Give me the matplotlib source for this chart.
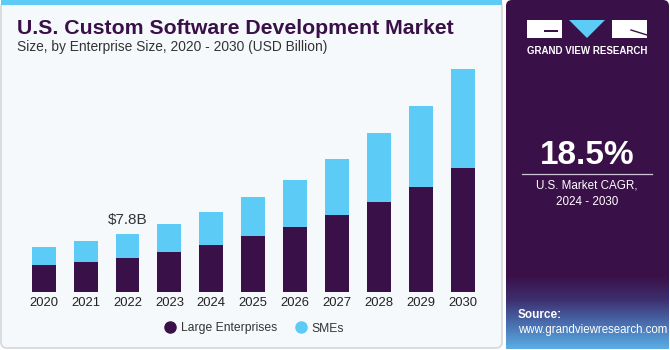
import numpy as np
import matplotlib.pyplot as plt
from matplotlib.patches import FancyBboxPatch, Rectangle, Polygon
from matplotlib.lines import Line2D
from matplotlib.colors import LinearSegmentedColormap

plt.rcParams["font.family"] = ["Liberation Sans", "DejaVu Sans"]

# Data (USD Billion)
years = ["2020", "2021", "2022", "2023", "2024", "2025", "2026", "2027", "2028", "2029", "2030"]
large = [3.67, 4.03, 4.61, 5.38, 6.36, 7.53, 8.78, 10.40, 12.14, 14.16, 16.72]
smes = [2.34, 2.79, 3.19, 3.72, 4.36, 5.21, 6.32, 7.49, 9.20, 10.86, 13.23]
label_year = "2022"
label_text = "$7.8B"
cagr = "18.5%"

dark = "#3a1048"
cyan = "#5ccbf5"
bg = "#f5f9fc"

W, H = 670, 350
fig = plt.figure(figsize=(6.7, 3.5), dpi=100)
fig.patch.set_facecolor("white")

# overlay axes in pixel coordinates for panels and decoration
deco = fig.add_axes([0, 0, 1, 1])
deco.axis("off")

deco.add_patch(FancyBboxPatch((1, 1), 501, 347, boxstyle="round,pad=0,rounding_size=6",
                              facecolor=bg, edgecolor="#d4d8dc", linewidth=1.2))
deco.add_patch(Rectangle((1, 0), 501, 5, facecolor=cyan, edgecolor="none"))

# right panel
deco.add_patch(FancyBboxPatch((506, 0), 163, 349, boxstyle="round,pad=0,rounding_size=6",
                              facecolor=dark, edgecolor="none"))
grad = np.linspace(0, 1, 100).reshape(-1, 1)
cmap = LinearSegmentedColormap.from_list("g", [dark, "#3d2f6e", "#4a6fb0", "#5aaee6"])
deco.imshow(grad, extent=(506, 669, 349, 275), cmap=cmap, aspect="auto", origin="upper", zorder=1)
deco.set_xlim(0, W)
deco.set_ylim(H, 0)

# logo
deco.add_patch(Rectangle((527, 20), 35, 18, facecolor="white", edgecolor="none", zorder=3))
deco.add_patch(Rectangle((544, 30), 14, 2, facecolor=dark, edgecolor="none", zorder=4))
deco.add_patch(Polygon([[569, 20], [605, 20], [587, 38]], facecolor=cyan, edgecolor="none", zorder=3))
deco.add_patch(Rectangle((612, 20), 35, 18, facecolor="white", edgecolor="none", zorder=3))
deco.plot([631, 647], [30, 35], color=dark, lw=1, zorder=4)
deco.text(587, 51, "GRAND VIEW RESEARCH", color="white", fontsize=7, fontweight="bold",
          ha="center", va="center", zorder=3)

deco.text(587, 156, cagr, color="white", fontsize=24, fontweight="bold", ha="center", va="center")
deco.plot([522, 652], [173.5, 173.5], color="#cfc4d6", lw=0.9)
deco.text(587, 186, "U.S. Market CAGR,", color="white", fontsize=8.4, ha="center", va="center")
deco.text(587, 202, "2024 - 2030", color="white", fontsize=8.4, ha="center", va="center")
deco.text(518, 315, "Source:", color="white", fontsize=8.5, fontweight="bold", ha="left", va="center", zorder=3)
deco.text(518, 330, "www.grandviewresearch.com", color="white", fontsize=8.3, ha="left", va="center", zorder=3)

# titles
deco.text(17, 28, "U.S. Custom Software Development Market", color=dark, fontsize=15.3,
          fontweight="bold", ha="left", va="center")
deco.text(17, 47, "Size, by Enterprise Size, 2020 - 2030 (USD Billion)", color="#333333",
          fontsize=9.9, ha="left", va="center")

# bar chart
ax = fig.add_axes([22.75 / W, 1 - 292 / H, 461 / W, 232 / H])
ax.patch.set_alpha(0)
x = np.arange(len(years))
ax.bar(x, large, width=0.57, color=dark, label="Large Enterprises")
ax.bar(x, smes, width=0.57, bottom=large, color=cyan, label="SMEs")
ax.set_xlim(-0.5, len(years) - 0.5)
ax.set_ylim(0, 31.2)
ax.set_xticks(x)
ax.set_xticklabels(years, fontsize=9.4, color="#222222")
ax.tick_params(axis="x", length=0, pad=3.5)
ax.set_yticks([])
for s in ax.spines.values():
    s.set_visible(False)

i = years.index(label_year)
ax.annotate(label_text, (x[i], large[i] + smes[i]), xytext=(0, 10), textcoords="offset points",
            ha="center", va="center", fontsize=11, color="#333333")

handles = [Line2D([], [], marker="o", ls="none", color=dark, markersize=8),
           Line2D([], [], marker="o", ls="none", color=cyan, markersize=8)]
ax.legend(handles, ["Large Enterprises", "SMEs"], loc="center", bbox_to_anchor=(232 / 461, -36.5 / 232),
          ncol=2, frameon=False, fontsize=8.7, handlelength=0.8, columnspacing=1.5,
          handletextpad=0.5, labelcolor="#333333")

fig.savefig("out.png", dpi=100)
